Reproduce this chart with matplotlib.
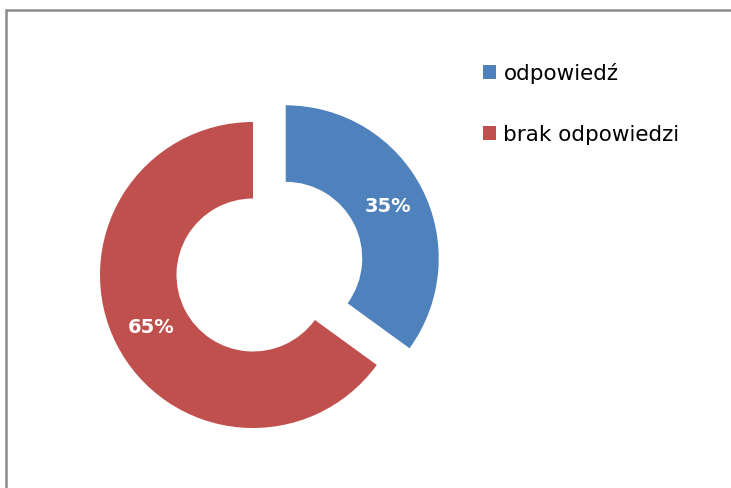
import matplotlib
matplotlib.use('Agg')
from matplotlib import pyplot as plt
from matplotlib.patches import Rectangle

labels = ['odpowiedź', 'brak odpowiedzi']
values = [35, 65]
colors = ['#4F81BD', '#C0504D']
explode = [0.24, 0]

W, H = 731, 488
fig = plt.figure(figsize=(W / 100, H / 100), dpi=100)

# pie centre ~ (253, 275) px, outer radius ~153 px
cx, cy, r = 253, 275, 153
half = 200
ax = fig.add_axes([(cx - half) / W, (H - cy - half) / H, 2 * half / W, 2 * half / H])

wedges, texts, autotexts = ax.pie(
    values, colors=colors, explode=explode, startangle=90, counterclock=False,
    autopct='%1.0f%%', pctdistance=0.75,
    wedgeprops=dict(width=0.5, edgecolor='none'),
    textprops=dict(color='white', fontsize=14, fontweight='bold'))
lim = half / r
ax.set_xlim(-lim, lim)
ax.set_ylim(-lim, lim)
ax.set_aspect('auto')
ax.axis('off')

fig.legend(wedges, labels, loc='upper left', bbox_to_anchor=(483 / W, 1 - 63 / H),
           frameon=False, fontsize=15.5, handlelength=0.62, handleheight=0.62,
           handletextpad=0.33, labelspacing=1.9, borderpad=0, borderaxespad=0)

# chart area border
fig.patches.append(Rectangle((6 / W, -0.1), 1.2, (H - 10) / H + 0.1, transform=fig.transFigure,
                             fill=False, edgecolor='#8a8a8a', lw=1.8))

fig.savefig('out.png', dpi=100)
